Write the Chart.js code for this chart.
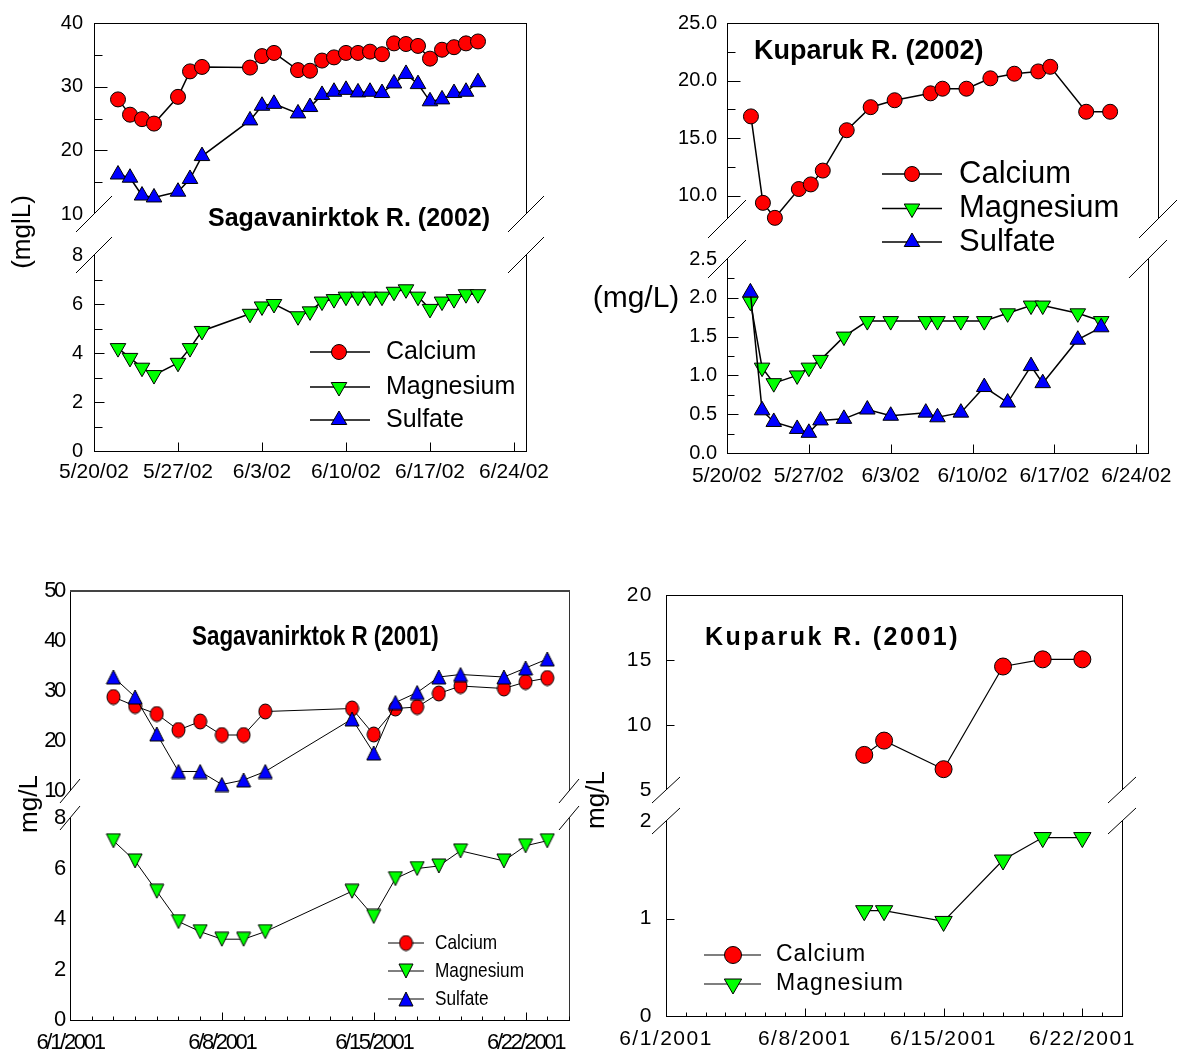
<!DOCTYPE html>
<html><head><meta charset="utf-8">
<script src="https://cdn.jsdelivr.net/npm/chart.js@4.4.1/dist/chart.umd.min.js"></script>
<style>
html,body{margin:0;padding:0;background:#fff;}
#wrap{position:relative;width:1183px;height:1057px;overflow:hidden;background:#fff;}
#wrap canvas{position:absolute;left:0;top:0;}
</style></head>
<body><div id="wrap"></div>
<script>
// ================= DATA =================
const seriesNames = ['Calcium', 'Magnesium', 'Sulfate'];

// Sagavanirktok R. (2002)
const sag02Dates = ['2002-05-22','2002-05-23','2002-05-24','2002-05-25','2002-05-27','2002-05-28','2002-05-29','2002-06-02','2002-06-03','2002-06-04','2002-06-06','2002-06-07','2002-06-08','2002-06-09','2002-06-10','2002-06-11','2002-06-12','2002-06-13','2002-06-14','2002-06-15','2002-06-16','2002-06-17','2002-06-18','2002-06-19','2002-06-20','2002-06-21'];
const sag02Calcium   = [28.0,25.6,24.9,24.2,28.4,32.4,33.1,33.0,34.8,35.3,32.6,32.5,34.1,34.6,35.3,35.3,35.5,35.1,36.8,36.7,36.4,34.4,35.8,36.2,36.8,37.1];
const sag02Magnesium = [4.2,3.8,3.4,3.1,3.6,4.2,4.9,5.6,5.9,6.0,5.5,5.7,6.1,6.2,6.3,6.3,6.3,6.3,6.5,6.6,6.3,5.8,6.1,6.2,6.4,6.4];
const sag02Sulfate   = [16.2,15.7,12.9,12.6,13.5,15.5,19.1,24.7,27.0,27.3,25.8,26.8,28.7,29.2,29.5,29.1,29.2,29.0,30.5,32.0,30.4,27.7,28.0,29.0,29.2,30.7];

// Kuparuk R. (2002)
const kup02Dates = ['2002-05-22','2002-05-23','2002-05-24','2002-05-26','2002-05-27','2002-05-28','2002-05-30','2002-06-01','2002-06-03','2002-06-06','2002-06-07','2002-06-09','2002-06-11','2002-06-13','2002-06-15','2002-06-16','2002-06-19','2002-06-21'];
const kup02Calcium   = [16.9,9.4,8.1,10.6,11.0,12.2,15.7,17.7,18.3,18.9,19.3,19.3,20.2,20.6,20.8,21.2,17.3,17.3];
const kup02Magnesium = [1.95,1.1,0.9,1.0,1.1,1.2,1.5,1.7,1.7,1.7,1.7,1.7,1.7,1.8,1.9,1.9,1.8,1.7];
const kup02Sulfate   = [2.07,0.55,0.4,0.31,0.26,0.42,0.44,0.56,0.48,0.52,0.46,0.52,0.85,0.65,1.12,0.9,1.46,1.62];

// Sagavanirktok R (2001)
const sag01Dates = ['2001-06-03','2001-06-04','2001-06-05','2001-06-06','2001-06-07','2001-06-08','2001-06-09','2001-06-10','2001-06-14','2001-06-15','2001-06-16','2001-06-17','2001-06-18','2001-06-19','2001-06-21','2001-06-22','2001-06-23'];
const sag01Calcium   = [28.8,27.0,25.4,22.2,23.9,21.2,21.2,25.9,26.5,21.3,26.5,26.8,29.5,31.0,30.5,31.8,32.6];
const sag01Magnesium = [7.1,6.3,5.1,3.9,3.5,3.2,3.2,3.5,5.1,4.1,5.6,6.0,6.1,6.7,6.3,6.9,7.1];
const sag01Sulfate   = [32.8,28.8,21.4,13.9,13.9,11.3,12.2,13.9,24.4,17.6,27.7,29.7,32.8,33.3,32.8,34.6,36.4];

// Kuparuk R. (2001)
const kup01Dates = ['2001-06-11','2001-06-12','2001-06-15','2001-06-18','2001-06-20','2001-06-22'];
const kup01Calcium   = [7.7,8.8,6.6,14.5,15.05,15.05];
const kup01Magnesium = [1.08,1.08,0.97,1.6,1.83,1.83];

// Axis tick labels / ranges
const dateTicks02 = ['5/20/02','5/27/02','6/3/02','6/10/02','6/17/02','6/24/02'];
const dateTicks01 = ['6/1/2001','6/8/2001','6/15/2001','6/22/2001'];
const xRange02 = ['5/20/02','6/25/02'];
const xRange01 = ['6/1/2001','6/24/2001'];
const sag02UpperY = ['10','20','30','40'];
const sag02LowerY = ['0','2','4','6','8'];
const kup02UpperY = ['10.0','15.0','20.0','25.0'];
const kup02LowerY = ['0.0','0.5','1.0','1.5','2.0','2.5'];
const sag01UpperY = ['10','20','30','40','50'];
const sag01LowerY = ['0','2','4','6','8'];
const kup01UpperY = ['5','10','15','20'];
const kup01LowerY = ['0','1','2'];
const sag02UpperRange = [10, 40], sag02LowerRange = [0, 8];
const kup02UpperRange = [8, 25],  kup02LowerRange = [0, 2.5];
const sag01UpperRange = [10, 50], sag01LowerRange = [0, 8];
const kup01UpperRange = [5, 20],  kup01LowerRange = [0, 2];

// ================= HELPERS =================
const FONT = '"Liberation Sans", Arial, Helvetica, sans-serif';
const W = 1183, H = 1057;
const wrap = document.getElementById('wrap');

function isoDay(s){ const [y,m,d] = s.split('-').map(Number); return Date.UTC(y, m-1, d) / 864e5; }
function lblDay(s){ let [m,d,y] = s.split('/').map(Number); if (y < 100) y += 2000; return Date.UTC(y, m-1, d) / 864e5; }
function seg(ctx,x1,y1,x2,y2){ ctx.beginPath(); ctx.moveTo(x1,y1); ctx.lineTo(x2,y2); ctx.stroke(); }
const cr = v => Math.round(v) + 0.5;

function txt(ctx, s, x, y, o){
  ctx.save();
  ctx.translate(x, y);
  if (o.rot) ctx.rotate(o.rot);
  if (o.hs) ctx.scale(o.hs, 1);
  ctx.font = (o.bold ? 'bold ' : '') + o.size + 'px ' + FONT;
  ctx.letterSpacing = (o.ls || 0) + 'px';
  ctx.textAlign = o.align || 'left';
  ctx.textBaseline = 'middle';
  ctx.fillStyle = '#000';
  ctx.fillText(s, 0, 0);
  ctx.restore();
}

function imgMarker(shape, w, h, fill){
  const c = document.createElement('canvas'); c.width = w + 2; c.height = h + 2;
  const g = c.getContext('2d'); g.fillStyle = fill; g.strokeStyle = '#000'; g.lineWidth = 1;
  g.beginPath();
  if (shape === 'ellipse') g.ellipse(w/2+1, h/2+1, w/2, h/2, 0, 0, Math.PI*2);
  else if (shape === 'up') { g.moveTo(w/2+1, 1); g.lineTo(w+1, h+1); g.lineTo(1, h+1); g.closePath(); }
  else { g.moveTo(1, 1); g.lineTo(w+1, 1); g.lineTo(w/2+1, h+1); g.closePath(); }
  g.fill(); g.stroke();
  return c;
}

function drawMarker(ctx, m, x, y){
  if (m.img) { ctx.drawImage(m.img, x - m.img.width/2, y - m.img.height/2); return; }
  ctx.save();
  ctx.fillStyle = m.fill; ctx.strokeStyle = '#000'; ctx.lineWidth = 1;
  ctx.beginPath();
  if (m.ps === 'circle') ctx.arc(x, y, m.r, 0, Math.PI*2);
  else {
    const s = m.rot ? -1 : 1;
    ctx.moveTo(x, y - s*m.r);
    ctx.lineTo(x + m.r*Math.sin(Math.PI/3), y + s*m.r/2);
    ctx.lineTo(x - m.r*Math.sin(Math.PI/3), y + s*m.r/2);
    ctx.closePath();
  }
  ctx.fill(); ctx.stroke(); ctx.restore();
}

function drawLegend(ctx, L){
  L.names.forEach((n, i) => {
    const y = L.rows[i];
    ctx.save(); ctx.strokeStyle = '#000'; ctx.lineWidth = L.lw; seg(ctx, L.x1, y, L.x2, y); ctx.restore();
    drawMarker(ctx, L.markers[i], L.mx, y);
    txt(ctx, n, L.tx, y, L.font);
  });
}

function series(dates, vals, x0, m, lw, order){
  return {
    data: dates.map((d, i) => ({x: isoDay(d) - x0, y: vals[i]})),
    showLine: true, borderColor: '#000', borderWidth: lw, tension: 0,
    pointStyle: m.img || m.ps, pointRotation: m.rot || 0, pointRadius: m.r,
    pointBackgroundColor: m.fill, pointBorderColor: '#000', pointBorderWidth: 1,
    pointHoverRadius: m.r, clip: false, order: order
  };
}

function deco(c){
  return {
    id: 'deco',
    beforeDraw(chart){ chart.ctx.letterSpacing = (c.tickLS || 0) + 'px'; },
    afterDraw(chart){
      const ctx = chart.ctx, a = chart.chartArea, xs = chart.scales.x, ys = chart.scales.y;
      ctx.save();
      ctx.letterSpacing = '0px';
      ctx.strokeStyle = '#000'; ctx.lineWidth = 1;
      const L = cr(a.left), R = cr(a.right), T = cr(a.top), B = cr(a.bottom);
      seg(ctx, L, a.top, L, a.bottom);
      ctx.strokeStyle = c.rightColor || '#000';
      seg(ctx, R, a.top, R, a.bottom);
      ctx.strokeStyle = '#000';
      if (c.upper) {
        ctx.save();
        ctx.strokeStyle = c.topColor || '#000'; ctx.lineWidth = c.topWidth || 1;
        const ty = c.topWidth === 2 ? T - 0.5 : T;
        seg(ctx, L - 0.5, ty, R + 0.5, ty);
        ctx.restore();
      } else {
        seg(ctx, L - 0.5, B, R + 0.5, B);
      }
      (c.yMajor || []).forEach(v => { const p = cr(ys.getPixelForValue(v)); seg(ctx, L, p, L + c.yMajLen, p); });
      (c.yMinor || []).forEach(v => { const p = cr(ys.getPixelForValue(v)); seg(ctx, L, p, L + c.yMinLen, p); });
      if (!c.upper && c.xTickVals) {
        if (c.xDaily) {
          for (let d = Math.ceil(xs.min); d <= xs.max; d++) {
            const p = cr(xs.getPixelForValue(d)); seg(ctx, p, B, p, B - c.xMinLen);
          }
        }
        c.xTickVals.forEach(v => { const p = cr(xs.getPixelForValue(v)); seg(ctx, p, B, p, B - c.xMajLen); });
      }
      // axis-break slashes
      const yb = c.upper ? a.bottom : a.top;
      [a.left, a.right].forEach(x => seg(ctx, x - c.slash[0], yb + c.slash[1], x + c.slash[0], yb - c.slash[1]));
      ctx.restore();
      if (c.extra) c.extra(ctx, chart);
    }
  };
}

function section(c){
  const cv = document.createElement('canvas');
  cv.width = W; cv.height = H; cv.style.width = W + 'px'; cv.style.height = H + 'px';
  wrap.appendChild(cv);
  const YW = 60, XH = 40;
  const showX = !!c.xLabels;
  const yVals = c.yLabels.map(parseFloat);
  const xVals = showX ? c.xLabels.map(l => lblDay(l) - c.x0) : [];
  c.xTickVals = xVals;
  const pad = {left: c.area.l - YW, top: c.area.t, right: W - c.area.r, bottom: H - c.area.b - (showX ? XH : 0)};
  new Chart(cv, {
    type: 'scatter',
    data: {datasets: c.datasets},
    options: {
      responsive: false, animation: false, devicePixelRatio: 1, events: [],
      layout: {padding: pad},
      plugins: {legend: {display: false}, tooltip: {enabled: false}, title: {display: false}},
      scales: {
        x: {
          type: 'linear', min: c.xMin, max: c.xMax, display: showX, position: 'bottom',
          grid: {display: false, drawTicks: false}, border: {display: false},
          ticks: {autoSkip: false, maxRotation: 0, minRotation: 0, color: '#000',
                  font: {family: FONT, size: c.xFont || 21}, padding: c.xPad || 9,
                  callback: (v) => { const i = xVals.indexOf(v); return i >= 0 ? c.xLabels[i] : ''; }},
          afterBuildTicks: (s) => { s.ticks = xVals.map(v => ({value: v})); },
          afterFit: (s) => { s.height = showX ? XH : 0; }
        },
        y: {
          type: 'linear', min: c.yMin, max: c.yMax, position: 'left',
          grid: {display: false, drawTicks: false}, border: {display: false},
          ticks: {color: '#000', font: {family: FONT, size: c.yFont || 20}, padding: c.yPad || 10,
                  callback: (v) => { const i = yVals.indexOf(v); return i >= 0 ? c.yLabels[i] : ''; }},
          afterBuildTicks: (s) => { s.ticks = yVals.map(v => ({value: v})); },
          afterFit: (s) => { s.width = YW; }
        }
      }
    },
    plugins: [deco(c)]
  });
}

// ================= MARKERS =================
const mk02 = {
  ca: {ps: 'circle', r: 7.5, fill: '#ff0000'},
  mg: {ps: 'triangle', rot: 180, r: 9, fill: '#00ff00'},
  so: {ps: 'triangle', r: 9, fill: '#0000ff'}
};
const mk01s = {
  ca: {img: imgMarker('ellipse', 13, 15, '#ff0000'), r: 7, fill: '#ff0000'},
  mg: {img: imgMarker('down', 14, 14, '#00ff00'), r: 7, fill: '#00ff00'},
  so: {img: imgMarker('up', 14, 14, '#0000ff'), r: 7, fill: '#0000ff'}
};
const mk01k = {
  ca: {ps: 'circle', r: 8.5, fill: '#ff0000'},
  mg: {ps: 'triangle', rot: 180, r: 10, fill: '#00ff00'}
};

// ================= PANEL 1: Sagavanirktok R. (2002) =================
const x002 = lblDay(xRange02[0]), xMax02 = lblDay(xRange02[1]) - x002;
section({
  area: {l: 94, r: 526, t: 18, b: 214}, upper: true, x0: x002, xMin: 0, xMax: xMax02,
  yMin: sag02UpperRange[0], yMax: sag02UpperRange[1], yLabels: sag02UpperY, yFont: 20, yPad: 11,
  yMajor: [20, 30], yMinor: [15, 25, 35], yMajLen: 13, yMinLen: 8, slash: [18, 18],
  datasets: [series(sag02Dates, sag02Sulfate, x002, mk02.so, 1.5, 0), series(sag02Dates, sag02Calcium, x002, mk02.ca, 1.5, 2)],
  extra: (ctx) => txt(ctx, 'Sagavanirktok R. (2002)', 208, 219, {size: 25, bold: true})
});
section({
  area: {l: 94, r: 526, t: 255, b: 451}, upper: false, x0: x002, xMin: 0, xMax: xMax02,
  xLabels: dateTicks02, xFont: 21, xPad: 9,
  yMin: sag02LowerRange[0], yMax: sag02LowerRange[1], yLabels: sag02LowerY, yFont: 20, yPad: 11,
  yMajor: [2, 4, 6], yMinor: [1, 3, 5, 7], yMajLen: 10, yMinLen: 8, xMajLen: 9, slash: [18, 18],
  datasets: [series(sag02Dates, sag02Magnesium, x002, mk02.mg, 1.5, 1)],
  extra: (ctx) => {
    drawLegend(ctx, {names: seriesNames, rows: [352, 387, 420], x1: 310, x2: 370, mx: 339, tx: 386, lw: 1.5,
      markers: [mk02.ca, mk02.mg, mk02.so], font: {size: 25}});
    txt(ctx, '(mglL)', 23, 232, {size: 26, rot: -Math.PI/2, align: 'center'});
  }
});

// ================= PANEL 2: Kuparuk R. (2002) =================
section({
  area: {l: 727, r: 1158, t: 23, b: 219}, upper: true, x0: x002, xMin: 0, xMax: xMax02,
  yMin: kup02UpperRange[0], yMax: kup02UpperRange[1], yLabels: kup02UpperY, yFont: 20, yPad: 10,
  yMajor: [10, 15, 20], yMinor: [12.5, 17.5, 22.5], yMajLen: 13, yMinLen: 8, slash: [19, 19],
  datasets: [series(kup02Dates, kup02Calcium, x002, mk02.ca, 1.5, 2)],
  extra: (ctx) => {
    txt(ctx, 'Kuparuk R. (2002)', 754, 52, {size: 27, bold: true});
    drawLegend(ctx, {names: seriesNames, rows: [174, 208.5, 242], x1: 882, x2: 942, mx: 912, tx: 959, lw: 1.5,
      markers: [mk02.ca, mk02.mg, mk02.so], font: {size: 31}});
    txt(ctx, '(mg/L)', 636, 299, {size: 30, align: 'center'});
  }
});
section({
  area: {l: 727, r: 1158, t: 259, b: 453}, upper: false, x0: x002, xMin: 0, xMax: xMax02,
  xLabels: dateTicks02, xFont: 21, xPad: 11,
  yMin: kup02LowerRange[0], yMax: kup02LowerRange[1], yLabels: kup02LowerY, yFont: 20, yPad: 10,
  yMajor: [0.5, 1, 1.5, 2], yMinor: [0.25, 0.75, 1.25, 1.75, 2.25], yMajLen: 11, yMinLen: 7, xMajLen: 9, slash: [19, 19],
  datasets: [series(kup02Dates, kup02Sulfate, x002, mk02.so, 1.5, 0), series(kup02Dates, kup02Magnesium, x002, mk02.mg, 1.5, 1)]
});

// ================= PANEL 3: Sagavanirktok R (2001) =================
const x001 = lblDay(xRange01[0]), xMax01 = lblDay(xRange01[1]) - x001;
section({
  area: {l: 70, r: 569, t: 591, b: 791}, upper: true, x0: x001, xMin: 0, xMax: xMax01,
  yMin: sag01UpperRange[0], yMax: sag01UpperRange[1], yLabels: sag01UpperY, yFont: 22, yPad: 6, tickLS: -2.3,
  topColor: '#444', topWidth: 2, rightColor: '#333', slash: [10, 12],
  datasets: [series(sag01Dates, sag01Sulfate, x001, mk01s.so, 1, 0), series(sag01Dates, sag01Calcium, x001, mk01s.ca, 1, 2)],
  extra: (ctx) => txt(ctx, 'Sagavanirktok R (2001)', 192, 638, {size: 27, bold: true, hs: 0.83})
});
section({
  area: {l: 70, r: 569, t: 818, b: 1020}, upper: false, x0: x001, xMin: 0, xMax: xMax01,
  xLabels: dateTicks01, xFont: 22, xPad: 10, tickLS: -2.3, xDaily: true, xMajLen: 8, xMinLen: 4,
  yMin: sag01LowerRange[0], yMax: sag01LowerRange[1], yLabels: sag01LowerY, yFont: 22, yPad: 6,
  rightColor: '#333', slash: [10, 12],
  datasets: [series(sag01Dates, sag01Magnesium, x001, mk01s.mg, 1, 1)],
  extra: (ctx) => {
    drawLegend(ctx, {names: seriesNames, rows: [943, 971, 999], x1: 388, x2: 424, mx: 406, tx: 435, lw: 1,
      markers: [mk01s.ca, mk01s.mg, mk01s.so], font: {size: 21, hs: 0.82}});
    txt(ctx, 'mg/L', 30, 804, {size: 26, rot: -Math.PI/2, align: 'center'});
  }
});

// ================= PANEL 4: Kuparuk R. (2001) =================
section({
  area: {l: 666, r: 1122, t: 595, b: 790}, upper: true, x0: x001, xMin: 0, xMax: xMax01,
  yMin: kup01UpperRange[0], yMax: kup01UpperRange[1], yLabels: kup01UpperY, yFont: 21, yPad: 13, tickLS: 1.5,
  yMajor: [10, 15], yMajLen: 8, slash: [14, 13],
  datasets: [series(kup01Dates, kup01Calcium, x001, mk01k.ca, 1.2, 2)],
  extra: (ctx) => txt(ctx, 'Kuparuk R. (2001)', 705, 638, {size: 25, bold: true, ls: 2.5})
});
section({
  area: {l: 666, r: 1122, t: 821, b: 1016}, upper: false, x0: x001, xMin: 0, xMax: xMax01,
  xLabels: dateTicks01, xFont: 21, xPad: 11, tickLS: 1.5, xDaily: true, xMajLen: 8, xMinLen: 4,
  yMin: kup01LowerRange[0], yMax: kup01LowerRange[1], yLabels: kup01LowerY, yFont: 21, yPad: 13,
  yMajor: [1], yMajLen: 8, slash: [14, 13],
  datasets: [series(kup01Dates, kup01Magnesium, x001, mk01k.mg, 1.2, 1)],
  extra: (ctx) => {
    drawLegend(ctx, {names: seriesNames.slice(0, 2), rows: [955, 984], x1: 704, x2: 761, mx: 733, tx: 776, lw: 1.2,
      markers: [mk01k.ca, mk01k.mg], font: {size: 23, ls: 1}});
    txt(ctx, 'mg/L', 597, 800, {size: 26, rot: -Math.PI/2, align: 'center'});
  }
});
</script>
</body></html>
